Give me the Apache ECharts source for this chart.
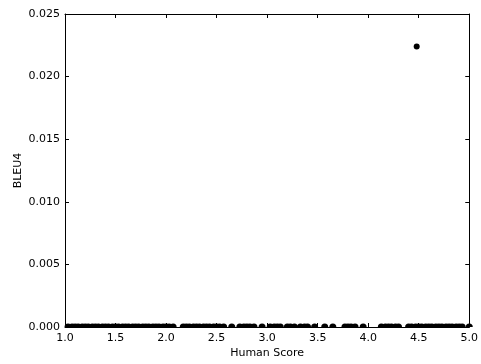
<!DOCTYPE html>
<html>
<head>
<meta charset="utf-8">
<script src="https://cdn.jsdelivr.net/npm/echarts@6/dist/echarts.min.js"></script>
<style>
  html, body { margin: 0; padding: 0; background: #fff; }
  #chart { width: 481px; height: 364px; }
</style>
</head>
<body>
<div id="chart"></div>
<script>
// Human scores that got a BLEU4 of zero
const zeroScores = [
    1.03, 1.07, 1.1, 1.13, 1.17, 1.2, 1.23, 1.27, 1.3, 1.33, 1.37, 1.4, 1.43, 1.47, 1.5,
    1.53, 1.57, 1.6, 1.63, 1.67, 1.7, 1.73, 1.77, 1.8, 1.83, 1.87, 1.9, 1.93, 1.97, 2.0,
    2.03, 2.07,
    2.17, 2.2, 2.23, 2.27, 2.3, 2.33, 2.37, 2.4, 2.43, 2.47, 2.5, 2.53, 2.57,
    2.65,
    2.73, 2.77, 2.8, 2.83, 2.87,
    2.95,
    3.03, 3.07, 3.1, 3.13,
    3.2, 3.23, 3.27,
    3.33, 3.37, 3.4,
    3.47,
    3.57,
    3.65,
    3.77, 3.8, 3.83, 3.87,
    3.95,
    4.13, 4.17, 4.2, 4.23, 4.27, 4.3,
    4.4, 4.43, 4.47, 4.5, 4.53, 4.57, 4.6, 4.63, 4.67, 4.7, 4.73, 4.77, 4.8, 4.83,
    4.87, 4.9, 4.93,
    5.0
];
// the one non-zero point
const hitScores = [4.48];
const hitBleu = [0.0224];

const xTicks = [1.0, 1.5, 2.0, 2.5, 3.0, 3.5, 4.0, 4.5, 5.0];
const yTicks = [0.000, 0.005, 0.010, 0.015, 0.020, 0.025];

const chart = echarts.init(document.getElementById("chart"));

const font = "DejaVu Sans";
const tick = { show: true, inside: true, length: 4, lineStyle: { color: "#000" } };
const line = { show: true, onZero: false, lineStyle: { color: "#000", width: 1 } };

// half disc, sits on the axis like the clipped markers
const halfDot = "path://M0,10 A10,10 0 0 1 20,10 Z";

chart.setOption({
    animation: false,
    backgroundColor: "#fff",
    grid: { left: 65, right: 10, top: 14, bottom: 32 },
    xAxis: [
        {
            type: "value",
            min: xTicks[0], max: xTicks[xTicks.length - 1], interval: 0.5,
            axisLine: line,
            axisTick: tick,
            splitLine: { show: false },
            axisLabel: {
                color: "#000", fontFamily: font, fontSize: 11, margin: 6,
                formatter: v => v.toFixed(1)
            },
            name: "Human Score",
            nameLocation: "middle",
            nameGap: 21,
            nameMoveOverlap: false,
            nameTextStyle: { color: "#000", fontFamily: font, fontSize: 11 }
        },
        {
            type: "value", position: "top",
            min: xTicks[0], max: xTicks[xTicks.length - 1], interval: 0.5,
            axisLine: line, axisTick: tick,
            axisLabel: { show: false }, splitLine: { show: false }
        }
    ],
    yAxis: [
        {
            type: "value",
            min: yTicks[0], max: yTicks[yTicks.length - 1], interval: 0.005,
            axisLine: line,
            axisTick: tick,
            splitLine: { show: false },
            axisLabel: {
                color: "#000", fontFamily: font, fontSize: 11, margin: 5,
                formatter: v => v.toFixed(3)
            },
            name: "BLEU4",
            nameLocation: "middle",
            nameGap: 41,
            nameMoveOverlap: false,
            nameTextStyle: { color: "#000", fontFamily: font, fontSize: 11 }
        },
        {
            type: "value", position: "right",
            min: yTicks[0], max: yTicks[yTicks.length - 1], interval: 0.005,
            axisLine: line, axisTick: tick,
            axisLabel: { show: false }, splitLine: { show: false }
        }
    ],
    series: [
        {
            type: "scatter",
            symbol: halfDot,
            symbolSize: [7, 3.5],
            symbolOffset: [0, -1.75],
            itemStyle: { color: "#000", opacity: 1 },
            data: zeroScores.map(x => [x, 0])
        },
        {
            type: "scatter",
            symbol: "circle",
            symbolSize: 6,
            itemStyle: { color: "#000", opacity: 1 },
            data: hitScores.map((x, i) => [x, hitBleu[i]])
        }
    ]
});

window.addEventListener("resize", () => chart.resize());
</script>
</body>
</html>
